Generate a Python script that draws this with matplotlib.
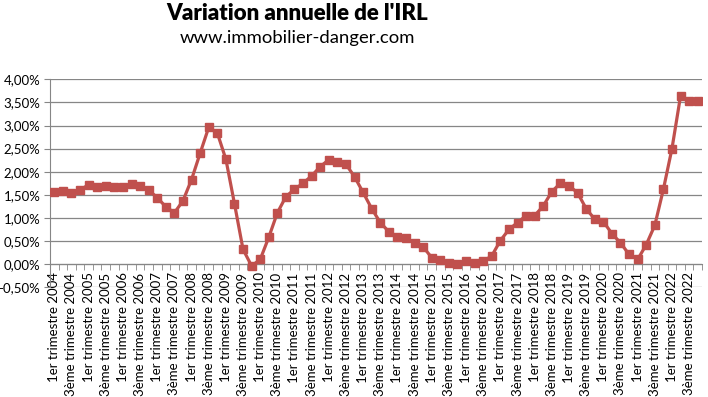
import numpy as np
import matplotlib
matplotlib.use("Agg")
import matplotlib.pyplot as plt
from matplotlib.ticker import FuncFormatter

# Variation annuelle de l'IRL, en %, un point par trimestre (T1 2004 -> T4 2022)
years = list(range(2004, 2023))
irl = [1.55, 1.58, 1.54, 1.60, 1.72, 1.67, 1.69, 1.67,
       1.67, 1.73, 1.70, 1.60, 1.44, 1.24, 1.11, 1.37,
       1.83, 2.40, 2.96, 2.84, 2.27, 1.31, 0.32, -0.04,
       0.10, 0.58, 1.11, 1.46, 1.62, 1.75, 1.91, 2.11,
       2.26, 2.22, 2.16, 1.89, 1.55, 1.20, 0.90, 0.70,
       0.59, 0.57, 0.46, 0.37, 0.14, 0.09, 0.02, 0.00,
       0.06, 0.03, 0.06, 0.18, 0.51, 0.75, 0.90, 1.05,
       1.05, 1.26, 1.57, 1.75, 1.70, 1.54, 1.20, 0.97,
       0.92, 0.66, 0.46, 0.21, 0.10, 0.42, 0.84, 1.62,
       2.50, 3.64, 3.53, 3.53]

labels = []
for y in years:
    labels += ["1er trimestre %d" % y, "3ème trimestre %d" % y]

plt.rcParams["font.family"] = ["Lato", "DejaVu Sans"]

W, H = 708, 397
fig = plt.figure(figsize=(W / 100, H / 100), dpi=100)
left, right, top, bottom = 50, 702, 79.3, 287.2
ax = fig.add_axes([left / W, 1 - bottom / H, (right - left) / W, (bottom - top) / H])

x = np.arange(len(irl))
ax.plot(x, irl, color="#C0504D", lw=2.3, marker="s", ms=6.3,
        markerfacecolor="#C0504D", markeredgecolor="#C0504D", zorder=3)

ax.set_xlim(-0.5, len(irl) - 0.5)
ax.set_ylim(-0.5, 4.0)
ax.set_yticks(np.arange(-0.5, 4.01, 0.5))
ax.yaxis.set_major_formatter(FuncFormatter(lambda v, p: ("%.2f%%" % v).replace(".", ",")))
ax.grid(axis="y", color="#868686", lw=0.9)
ax.set_axisbelow(True)

for s in ["top", "right"]:
    ax.spines[s].set_visible(False)
ax.spines["left"].set_color("#868686")
ax.spines["bottom"].set_color("#868686")
ax.spines["bottom"].set_position(("data", 0))

ax.set_xticks(x[::2])
ax.set_xticklabels(labels, rotation=90, fontsize=9.5)
ax.set_xticks(np.arange(-0.5, len(irl), 1), minor=True)
ax.tick_params(axis="x", which="major", length=0, pad=6)
ax.tick_params(axis="x", which="minor", length=4, color="#868686")
ax.tick_params(axis="y", length=4, color="#868686", labelsize=9.5, pad=3)

fig.text(297 / W, 1 - 13 / H, "Variation annuelle de l'IRL", ha="center", va="center",
         fontsize=16, fontweight="heavy")
fig.text(297 / W, 1 - 38 / H, "www.immobilier-danger.com", ha="center", va="center",
         fontsize=13.3)

fig.savefig("out.png", dpi=100)
